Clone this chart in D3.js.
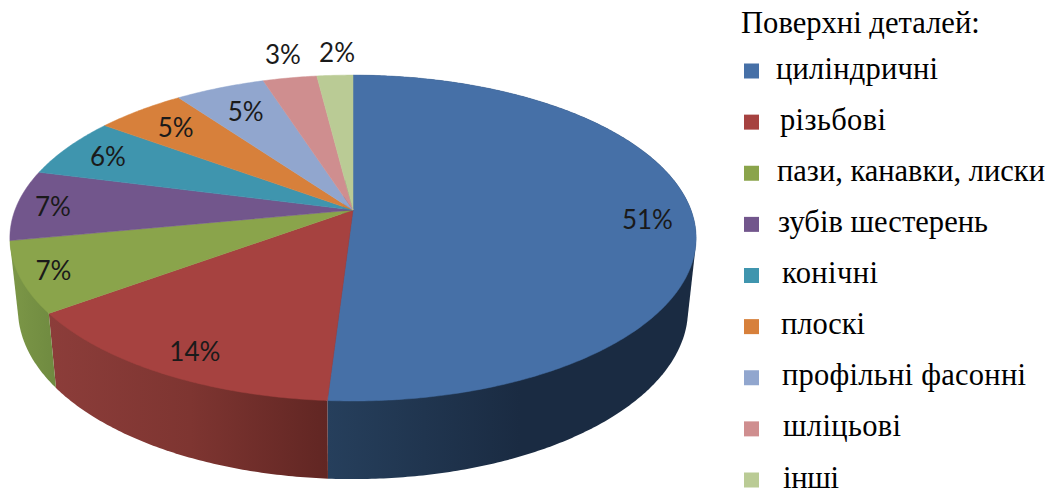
<!DOCTYPE html>
<html>
<head>
<meta charset="utf-8">
<script src="https://cdn.jsdelivr.net/npm/d3@7"></script>
<style>
  html, body { margin: 0; padding: 0; background: #fff; }
  svg { display: block; }
</style>
</head>
<body>
<svg id="chart" width="1051" height="490"></svg>
<script>
const categories = ["циліндричні", "різьбові", "пази, канавки, лиски", "зубів шестерень", "конічні", "плоскі", "профільні фасонні", "шліцьові", "інші"];
const values = [51, 14, 7, 7, 6, 5, 5, 3, 2];
const legendTitle = "Поверхні деталей:";

const colors = ["#4670A7", "#A64240", "#8AA44B", "#72568C", "#3F95AE", "#D7803B", "#91A6CE", "#CF8E8F", "#BACB95"];

// Wall shading goes left to right, only the front slices show a wall
const wallColors = [
    { domain: [328, 520, 700], range: ["#263f5c", "#1a2b42", "#1a2b42"] },
    { domain: [49, 190, 328], range: ["#8c3d3a", "#7e3531", "#612623"] },
    { domain: [10, 56], range: ["#7c9747", "#6f8a40"] }
];

// Label nudges from the r = 0.8 point of each slice
const labelNudge = [[23, 6], [-10, 16], [-37, 7], [-31, 1], [-14, -2], [-3, -1], [2, 2], [-18, -47], [-1, -46]];
const legendTextX = [776, 780, 777, 778, 782, 781, 782, 783, 783];
const legendTextLen = [162, 106, 268, 210, 96, 84, 244, 118, 56];

const svg = d3.select("#chart");
const defs = svg.append("defs");

// Perspective projection of the round pie on the page
const tilt = -0.172;
const topFace = { cx: 353, rx: 338, ry: 122, cy: 210 };
const bottomFace = { cx: 353, rx: 330, ry: 116.3, cy: 280.4 };

function project(face, angle, r = 1) {
    const u = r * Math.sin(angle);
    const v = -r * Math.cos(angle);
    const w = 1 + tilt * v;
    return [face.cx + face.rx * u / w, (face.ry * v + face.cy) / w];
}

function sampleAngles(start, end) {
    const n = Math.max(2, Math.ceil((end - start) / 0.01));
    return d3.range(n + 1).map(i => start + (end - start) * i / n);
}

const slices = d3.pie().sort(null).value(d => d)(values);
const line = d3.line();

// Side walls: hull of the top and bottom arcs, the top face hides the rest
const walls = svg.append("g");
wallColors.forEach((wall, i) => {
    const x0 = wall.domain[0];
    const x1 = wall.domain[wall.domain.length - 1];
    const grad = defs.append("linearGradient")
        .attr("id", "wall" + i)
        .attr("gradientUnits", "userSpaceOnUse")
        .attr("x1", x0).attr("x2", x1)
        .attr("y1", 0).attr("y2", 0);
    wall.domain.forEach((x, k) => {
        grad.append("stop")
            .attr("offset", (x - x0) / (x1 - x0))
            .attr("stop-color", wall.range[k]);
    });

    const angles = sampleAngles(slices[i].startAngle, slices[i].endAngle);
    const pts = angles.flatMap(a => [project(topFace, a), project(bottomFace, a)]);
    walls.append("path")
        .attr("d", line(d3.polygonHull(pts)) + "Z")
        .attr("fill", `url(#wall${i})`);
});

// Top face
svg.append("g")
    .selectAll("path")
    .data(slices)
    .enter()
    .append("path")
    .attr("d", d => {
        const arc = sampleAngles(d.startAngle, d.endAngle).map(a => project(topFace, a));
        return line([project(topFace, 0, 0), ...arc]) + "Z";
    })
    .attr("fill", (d, i) => colors[i])
    .attr("stroke", (d, i) => colors[i])
    .attr("stroke-width", 0.5);

// Percent labels
svg.append("g")
    .selectAll("text")
    .data(slices)
    .enter()
    .append("text")
    .attr("x", (d, i) => project(topFace, (d.startAngle + d.endAngle) / 2, 0.8)[0] + labelNudge[i][0])
    .attr("y", (d, i) => project(topFace, (d.startAngle + d.endAngle) / 2, 0.8)[1] + labelNudge[i][1])
    .attr("dy", "0.36em")
    .attr("text-anchor", "middle")
    .attr("font-family", "Lato, sans-serif")
    .attr("font-size", 26)
    .attr("fill", "#1a1a1a")
    .text(d => d.value + "%");

// Legend
const legendY = d3.scalePoint().domain(categories).range([78.5, 487.5]);
const legend = svg.append("g").attr("font-family", "'Liberation Serif', serif").attr("fill", "#000");

legend.append("text")
    .attr("x", 741)
    .attr("y", 33)
    .attr("font-size", 30.6)
    .text(legendTitle);

legend.selectAll("rect")
    .data(categories)
    .enter()
    .append("rect")
    .attr("x", 744)
    .attr("y", d => legendY(d) - 15)
    .attr("width", 15)
    .attr("height", 15)
    .attr("fill", (d, i) => colors[i]);

legend.selectAll("text.item")
    .data(categories)
    .enter()
    .append("text")
    .attr("class", "item")
    .attr("x", (d, i) => legendTextX[i])
    .attr("y", d => legendY(d))
    .attr("font-size", 30.5)
    .attr("textLength", (d, i) => legendTextLen[i])
    .text(d => d);
</script>
</body>
</html>
